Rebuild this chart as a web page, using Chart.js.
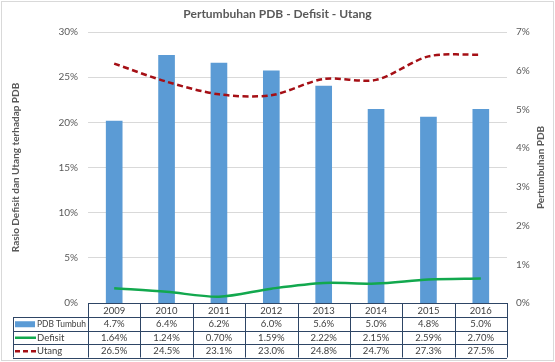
<!DOCTYPE html>
<html>
<head>
<meta charset="utf-8">
<script src="https://cdn.jsdelivr.net/npm/chart.js@4"></script>
<style>
  html, body { margin: 0; padding: 0; background: #fff; }
  #wrap { width: 555px; height: 362px; position: relative; }
</style>
</head>
<body>
<div id="wrap"><canvas id="chart"></canvas></div>
<script>
const years = ['2009', '2010', '2011', '2012', '2013', '2014', '2015', '2016'];
const pdbTumbuh = [4.7, 6.4, 6.2, 6.0, 5.6, 5.0, 4.8, 5.0];
const defisit = [1.64, 1.24, 0.70, 1.59, 2.22, 2.15, 2.59, 2.70];
const utang = [26.5, 24.5, 23.1, 23.0, 24.8, 24.7, 27.3, 27.5];

const FONT = 'Lato, "Open Sans", sans-serif';
const TEXT = '#595959';
const BLUE = '#5B9BD5';
const GREEN = '#12A84E';
const RED = '#A50F15';

// table rows under the plot: label, values, formatter, legend key
const tableRows = [
    { label: 'PDB Tumbuh', values: pdbTumbuh, fmt: v => v.toFixed(1) + '%', key: 'bar', color: BLUE },
    { label: 'Defisit', values: defisit, fmt: v => v.toFixed(2) + '%', key: 'line', color: GREEN },
    { label: 'Utang', values: utang, fmt: v => v.toFixed(1) + '%', key: 'dash', color: RED }
];

const dataTable = {
    id: 'dataTable',
    afterDraw(chart) {
        const ctx = chart.ctx;
        const x = chart.scales.x;
        const area = chart.chartArea;
        const colW = (area.right - area.left) / years.length;
        const top = area.bottom;
        const rowLines = [top, top + 14, top + 27.5, top + 41, top + 54.5];
        const labelLeft = 13;
        ctx.save();
        ctx.strokeStyle = '#2E4565';
        ctx.lineWidth = 1;
        // horizontal lines
        ctx.beginPath();
        ctx.moveTo(area.left, Math.round(rowLines[0]) + 0.5);
        ctx.lineTo(area.right, Math.round(rowLines[0]) + 0.5);
        for (let i = 1; i < rowLines.length; i++) {
            ctx.moveTo(labelLeft, Math.round(rowLines[i]) + 0.5);
            ctx.lineTo(area.right, Math.round(rowLines[i]) + 0.5);
        }
        // vertical lines
        for (let c = 0; c <= years.length; c++) {
            const xx = Math.round(area.left + c * colW) + 0.5;
            ctx.moveTo(xx, rowLines[0]);
            ctx.lineTo(xx, rowLines[4]);
        }
        ctx.moveTo(labelLeft + 0.5, rowLines[1]);
        ctx.lineTo(labelLeft + 0.5, rowLines[4]);
        ctx.stroke();

        ctx.fillStyle = '#404040';
        ctx.font = '9.5px ' + FONT;
        ctx.textBaseline = 'middle';
        ctx.textAlign = 'center';
        years.forEach((y, i) => {
            ctx.fillText(y, x.getPixelForValue(i), (rowLines[0] + rowLines[1]) / 2 + 0.5);
        });
        tableRows.forEach((row, r) => {
            const cy = (rowLines[r + 1] + rowLines[r + 2]) / 2 + 0.5;
            ctx.textAlign = 'center';
            ctx.fillStyle = '#404040';
            ctx.font = '9.5px ' + FONT;
            row.values.forEach((v, i) => ctx.fillText(row.fmt(v), x.getPixelForValue(i), cy));
            // legend key
            if (row.key === 'bar') {
                ctx.fillStyle = row.color;
                ctx.fillRect(15, cy - 3, 20, 6);
            } else {
                ctx.strokeStyle = row.color;
                ctx.lineWidth = 2.5;
                ctx.setLineDash(row.key === 'dash' ? [5, 3] : []);
                ctx.beginPath();
                ctx.moveTo(15, cy);
                ctx.lineTo(36, cy);
                ctx.stroke();
                ctx.setLineDash([]);
            }
            ctx.fillStyle = '#404040';
            ctx.textAlign = 'left';
            ctx.fillText(row.label, 37, cy, area.left - 39);
        });

        // right axis title, reading bottom to top like the left one
        ctx.save();
        ctx.translate(541, (area.top + area.bottom) / 2);
        ctx.rotate(-Math.PI / 2);
        ctx.fillStyle = TEXT;
        ctx.font = 'bold 10px ' + FONT;
        ctx.textAlign = 'center';
        ctx.textBaseline = 'middle';
        ctx.fillText('Pertumbuhan PDB', 0, 0);
        ctx.restore();

        // outer chart frame
        ctx.strokeStyle = '#D9D9D9';
        ctx.lineWidth = 1;
        ctx.strokeRect(1.5, 1.5, chart.width - 3, chart.height - 3);
        ctx.restore();
    }
};

new Chart(document.getElementById('chart'), {
    type: 'bar',
    data: {
        labels: years,
        datasets: [
            {
                type: 'line',
                label: 'Utang',
                data: utang,
                borderColor: RED,
                borderWidth: 2.5,
                borderDash: [6, 3.5],
                pointRadius: 0,
                tension: 0.3,
                fill: false,
                yAxisID: 'y',
                order: 1
            },
            {
                type: 'line',
                label: 'Defisit',
                data: defisit,
                borderColor: GREEN,
                borderWidth: 2.5,
                pointRadius: 0,
                tension: 0.3,
                fill: false,
                yAxisID: 'y',
                order: 2
            },
            {
                label: 'PDB Tumbuh',
                data: pdbTumbuh,
                backgroundColor: BLUE,
                barThickness: 16,
                yAxisID: 'y1',
                order: 3
            }
        ]
    },
    options: {
        responsive: true,
        maintainAspectRatio: false,
        animation: false,
        layout: { padding: { left: 0, right: 0, top: 0, bottom: 59 } },
        plugins: {
            legend: { display: false },
            tooltip: { enabled: false },
            title: {
                display: true,
                text: 'Pertumbuhan PDB - Defisit - Utang',
                color: TEXT,
                font: { family: FONT, size: 12, weight: 'bold' },
                padding: { top: 7, bottom: 10.6 }
            }
        },
        scales: {
            x: { display: false, offset: true },
            y: {
                position: 'left',
                min: 0, max: 30,
                afterFit: s => { s.width = 88; },
                ticks: {
                    stepSize: 5, padding: 10, color: TEXT,
                    font: { family: FONT, size: 10 },
                    callback: v => v + '%'
                },
                grid: { color: '#D9D9D9', drawTicks: false },
                border: { display: false },
                title: {
                    display: true,
                    text: 'Rasio Defisit dan Utang terhadap PDB',
                    color: TEXT,
                    font: { family: FONT, size: 10, weight: 'bold' },
                    padding: { top: 10, bottom: 0 }
                }
            },
            y1: {
                position: 'right',
                min: 0, max: 7,
                afterFit: s => { s.width = 48; },
                ticks: {
                    stepSize: 1, padding: 9, color: TEXT,
                    font: { family: FONT, size: 10 },
                    callback: v => v + '%'
                },
                grid: { display: false, drawTicks: false },
                border: { display: false }
            }
        }
    },
    plugins: [dataTable]
});
</script>
</body>
</html>
